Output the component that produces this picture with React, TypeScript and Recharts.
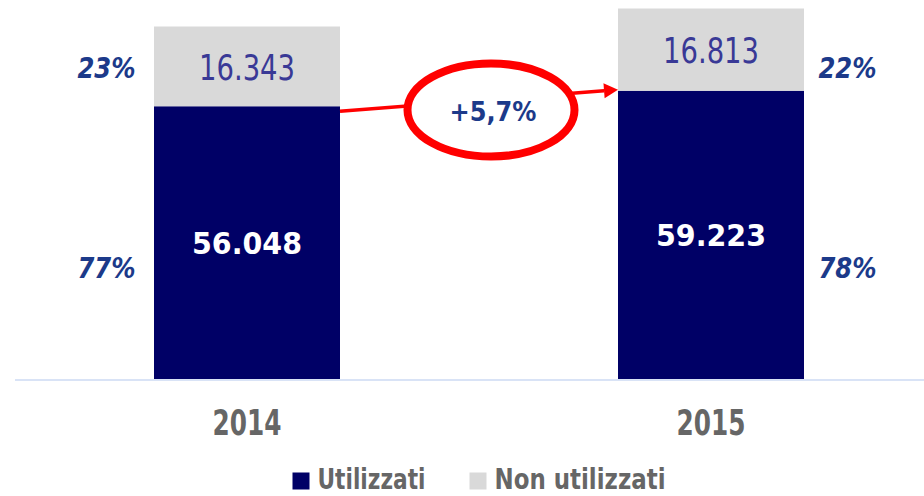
import React from 'react';
import { BarChart, Bar, XAxis, YAxis, Legend, LabelList, ReferenceLine } from 'recharts';

const years = ['2014', '2015'];
const utilizzati = [56048, 59223];
const nonUtilizzati = [16343, 16813];
const seriesNames = ['Utilizzati', 'Non utilizzati'];
const seriesColors = ['#000066', '#d9d9d9'];

const data = years.map((year, i) => ({
  year,
  utilizzati: utilizzati[i],
  nonUtilizzati: nonUtilizzati[i],
}));

const BAR_SIZE = 186;
const FONT = '"DejaVu Sans", Verdana, sans-serif';
const PCT_COLOR = '#1c3a8a';

const fmt = (n: number) => String(n).replace(/\B(?=(\d{3})+(?!\d))/g, '.');

const getBox = (p: any) => {
  const vb = p.viewBox && p.viewBox.width !== undefined ? p.viewBox : p;
  return { x: Number(vb.x), y: Number(vb.y), width: Number(vb.width), height: Number(vb.height) };
};

const DarkLabel = (props: any) => {
  const { x, y, width, height } = getBox(props);
  let index = props.index;
  if (index === undefined) index = utilizzati.indexOf(Number(props.value));
  const cx = x + width / 2;
  const cy = y + height / 2;
  const base = y + height;
  const total = utilizzati[index] + nonUtilizzati[index];
  const pU = Math.round((utilizzati[index] / total) * 100);
  const pN = Math.round((nonUtilizzati[index] / total) * 100);
  const px = index === 0 ? x - 47.5 : x + width + 43.5;
  return (
    <g>
      <text
        x={cx}
        y={cy + 11}
        textAnchor="middle"
        fill="#ffffff"
        fontFamily={FONT}
        fontWeight="bold"
        fontSize={30}
        textLength={110}
        lengthAdjust="spacingAndGlyphs"
      >
        {fmt(utilizzati[index])}
      </text>
      <text
        x={px}
        y={base - 102.5}
        textAnchor="middle"
        fill={PCT_COLOR}
        fontFamily={FONT}
        fontWeight="bold"
        fontStyle="italic"
        fontSize={29}
        textLength={58}
        lengthAdjust="spacingAndGlyphs"
      >
        {`${pU}%`}
      </text>
      <text
        x={px}
        y={base - 302}
        textAnchor="middle"
        fill={PCT_COLOR}
        fontFamily={FONT}
        fontWeight="bold"
        fontStyle="italic"
        fontSize={29}
        textLength={58}
        lengthAdjust="spacingAndGlyphs"
      >
        {`${pN}%`}
      </text>
    </g>
  );
};

const GreyLabel = (props: any) => {
  const { x, y, width, height } = getBox(props);
  let index = props.index;
  if (index === undefined) index = nonUtilizzati.indexOf(Number(props.value));
  return (
    <text
      x={x + width / 2}
      y={y + height / 2 + 13.5}
      textAnchor="middle"
      fill="#393996"
      fontFamily={FONT}
      fontSize={35}
      textLength={96}
      lengthAdjust="spacingAndGlyphs"
    >
      {fmt(nonUtilizzati[index])}
    </text>
  );
};

const YearTick = (props: any) => {
  const { x, y, payload } = props;
  return (
    <text
      x={x}
      y={y + 55}
      textAnchor="middle"
      fill="#666666"
      fontFamily={FONT}
      fontWeight="bold"
      fontSize={35}
      textLength={69}
      lengthAdjust="spacingAndGlyphs"
    >
      {String(payload.value)}
    </text>
  );
};

const growth = ((utilizzati[1] / utilizzati[0] - 1) * 100).toFixed(1).replace('.', ',');

const GrowthArrow = (props: any) => {
  const x1 = Number(props.x1);
  const y1 = Number(props.y1);
  const x2 = Number(props.x2);
  const y2 = Number(props.y2);
  const half = BAR_SIZE / 2;
  const sx = x1 + half;
  const sy = y1 + 5;
  const ex = x2 - half;
  const ey = y2 - 1;
  const ang = Math.atan2(ey - sy, ex - sx);
  const L = 14;
  const W = 7.5;
  const bx = ex - L * Math.cos(ang);
  const by = ey - L * Math.sin(ang);
  const nx = -Math.sin(ang);
  const ny = Math.cos(ang);
  const cx = (sx + ex) / 2 + 12;
  const cy = (sy + ey) / 2 + 9.5;
  return (
    <g>
      <line x1={sx} y1={sy} x2={bx} y2={by} stroke="#ff0000" strokeWidth={3.5} />
      <polygon
        points={`${ex},${ey} ${bx + nx * W},${by + ny * W} ${bx - nx * W},${by - ny * W}`}
        fill="#ff0000"
      />
      <ellipse cx={cx} cy={cy} rx={83.5} ry={46.5} fill="#ffffff" stroke="#ff0000" strokeWidth={8} />
      <text
        x={cx + 2}
        y={cy + 11}
        textAnchor="middle"
        fill={PCT_COLOR}
        fontFamily={FONT}
        fontWeight="bold"
        fontSize={26}
        textLength={87}
        lengthAdjust="spacingAndGlyphs"
      >
        {`+${growth}%`}
      </text>
    </g>
  );
};

const legendTextWidths = [108, 171];

const LegendContent = (props: any) => {
  const payload = props.payload || [];
  const items = seriesNames.map((name, i) => {
    const p = payload.find((q: any) => q.value === name);
    return { name, color: p && p.color ? p.color : seriesColors[i], w: legendTextWidths[i] };
  });
  const sq = 17;
  const gapT = 8;
  const gapI = 44;
  const baseline = 37;
  const total = items.reduce((s, it) => s + sq + gapT + it.w, 0) + gapI * (items.length - 1);
  let cur = 464 - total / 2;
  const els: any[] = [];
  items.forEach((it, i) => {
    els.push(<rect key={`r${i}`} x={cur} y={baseline - sq + 0.5} width={sq} height={sq} fill={it.color} />);
    els.push(
      <text
        key={`t${i}`}
        x={cur + sq + gapT}
        y={baseline}
        fill="#666666"
        fontFamily={FONT}
        fontWeight="bold"
        fontSize={29}
        textLength={it.w}
        lengthAdjust="spacingAndGlyphs"
      >
        {it.name}
      </text>
    );
    cur += sq + gapT + it.w + gapI;
  });
  return (
    <svg width={928} height={44} style={{ display: 'block', overflow: 'visible' }}>
      {els}
    </svg>
  );
};

export default function App() {
  return (
    <div style={{ position: 'absolute', left: 0, top: 0, width: 924, height: 496, overflow: 'hidden', background: '#ffffff' }}>
      <BarChart width={943} height={496} data={data} margin={{ top: 0, right: 0, left: 15, bottom: 0 }} barSize={BAR_SIZE}>
        <XAxis
          dataKey="year"
          type="category"
          height={72}
          interval={0}
          tickLine={false}
          tickSize={0}
          tickMargin={0}
          axisLine={{ stroke: '#d9e3f6', strokeWidth: 2 }}
          tick={<YearTick />}
        />
        <YAxis hide type="number" domain={[0, 77800]} allowDataOverflow />
        <Legend verticalAlign="bottom" height={44} content={<LegendContent />} />
        <Bar dataKey="utilizzati" name={seriesNames[0]} stackId="a" fill={seriesColors[0]} isAnimationActive={false}>
          <LabelList dataKey="utilizzati" content={<DarkLabel />} />
        </Bar>
        <Bar dataKey="nonUtilizzati" name={seriesNames[1]} stackId="a" fill={seriesColors[1]} isAnimationActive={false}>
          <LabelList dataKey="nonUtilizzati" content={<GreyLabel />} />
        </Bar>
        <ReferenceLine
          segment={[
            { x: years[0], y: utilizzati[0] },
            { x: years[1], y: utilizzati[1] },
          ]}
          ifOverflow="visible"
          shape={(p: any) => <GrowthArrow {...p} />}
        />
      </BarChart>
    </div>
  );
}
